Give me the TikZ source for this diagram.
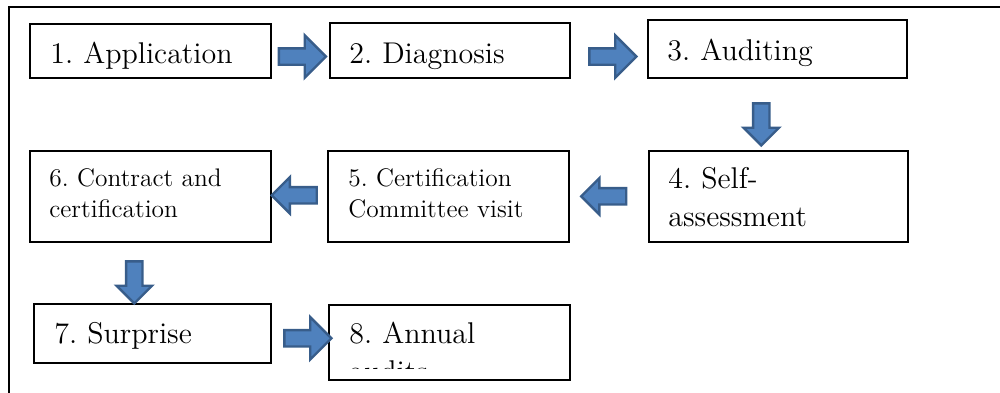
\documentclass[tikz,border=0pt]{standalone}
\usepackage{fontspec}
\setmainfont{lmroman12-regular}[Extension=.otf]
\usepackage{xcolor}
\usepackage{tikz}
\usetikzlibrary{calc,shapes.arrows}
\definecolor{arrowfill}{HTML}{4F81BD}
\definecolor{arrowline}{HTML}{385D8A}
\frenchspacing

\begin{document}
\begin{tikzpicture}[x=0.5pt,y=-0.5pt]
  \tikzstyle{stepbox} = [draw,line width=0.8pt,anchor=north west,inner sep=0pt]
  \tikzstyle{bigtext} = [anchor=base west,inner sep=0pt,text width=110pt,align=left,font=\fontsize{15}{19}\selectfont]
  \tikzstyle{smalltext} = [anchor=base west,inner sep=0pt,text width=110pt,align=left,font=\fontsize{12.7}{15.5}\selectfont]
  \tikzstyle{blockarrow} = [single arrow,fill=arrowfill,draw=arrowline,line width=1.2pt,single arrow tip angle=90]
  \tikzstyle{rarrow} = [blockarrow,inner xsep=0pt,inner ysep=3.5pt,minimum height=23.5pt,single arrow head extend=6.5pt]
  \tikzstyle{larrow} = [blockarrow,inner xsep=0pt,inner ysep=3.5pt,minimum height=22.5pt,single arrow head extend=5pt,shape border rotate=180]
  \tikzstyle{darrow} = [blockarrow,inner xsep=3.5pt,inner ysep=0pt,minimum height=21pt,single arrow head extend=4.75pt,shape border rotate=270]
  %
  \path[use as bounding box,clip] (0,0) rectangle (1000,392);
  % Outer frame.
  \draw[line width=1pt] (9,7) rectangle (1020,410);
  % First row.
  \node[stepbox,minimum width=120.5pt,minimum height=27pt] (b1) at (29,23) {};
  \node[stepbox,minimum width=120pt,minimum height=27.5pt] (b2) at (329,22) {};
  \node[stepbox,minimum width=129.5pt,minimum height=29pt] (b3) at (647,19) {};
  \node[bigtext] (t1) at ($(b1.north west)+(21,40)$) {1. Application};
  \node[bigtext] (t2) at ($(b2.north west)+(20,41)$) {2. Diagnosis};
  \node[bigtext] (t3) at ($(b3.north west)+(20,41)$) {3. Auditing};
  % Second row.
  \node[stepbox,minimum width=129.5pt,minimum height=45.5pt] (b4) at (648,150) {};
  \node[stepbox,minimum width=120.5pt,minimum height=45.5pt] (b5) at (327,150) {};
  \node[stepbox,minimum width=120.5pt,minimum height=45.5pt] (b6) at (29,150) {};
  \node[bigtext] (t4) at ($(b4.north west)+(20,38)$) {4. Self-\\assessment};
  \node[smalltext] (t5) at ($(b5.north west)+(21,36)$) {5. Certification\\Committee visit};
  \node[smalltext] (t6) at ($(b6.north west)+(20,36)$) {6. Contract and\\certification};
  % Third row.
  \node[stepbox,minimum width=118.5pt,minimum height=29.5pt] (b7) at (33,303) {};
  \node[stepbox,minimum width=120.5pt,minimum height=37.5pt] (b8) at (328,304) {};
  \node[bigtext] (t7) at ($(b7.north west)+(21,40)$) {7. Surprise};
  \begin{scope}
    \clip (b8.north west) rectangle ($(b8.south east)+(0,-12)$);
    \node[bigtext] (t8) at ($(b8.north west)+(21,39)$) {8. Annual\\audits};
  \end{scope}
  % Block arrows.
  \node[rarrow] (a12) at ($(b1.east)!.5!(b2.west)+(-2,6)$) {};
  \node[rarrow] (a23) at ($(b2.east)!.5!(b3.west)+(0,7)$) {};
  \node[darrow] (a34) at ($(b3.south)!.5!(b4.north)+(-16.5,6)$) {};
  \node[larrow] (a45) at ($(b4.west)!.5!(b5.east)+(-1,0)$) {};
  \node[larrow] (a56) at ($(b5.west)!.5!(b6.east)+(-1,-1)$) {};
  \node[darrow] (a67) at ($(b6.south)!.5!(b7.north)+(-17,5.5)$) {};
  \node[rarrow] (a78) at ($(b7.east)!.5!(b8.west)+(4,0.5)$) {};
\end{tikzpicture}
\end{document}
